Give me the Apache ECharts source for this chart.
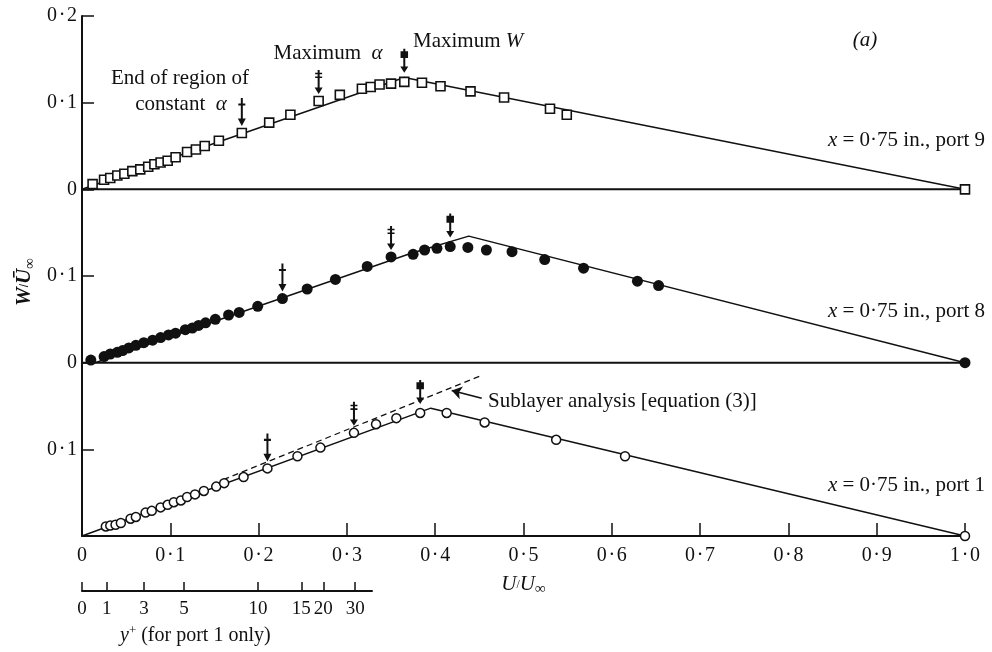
<!DOCTYPE html>
<html>
<head>
<meta charset="UTF-8">
<title>W/U against U/U</title>
<script src="https://cdn.jsdelivr.net/npm/echarts@6/dist/echarts.min.js"></script>
<style>
  html, body { margin: 0; padding: 0; background: #fff; }
  #main { width: 992px; height: 652px; }
</style>
</head>
<body>
<div id="main"></div>
<script>
// values: W/U∞ against U/U∞, x = 0.75 in.
// port 9 (open squares)
var port9U = [0.012,0.025,0.032,0.040,0.048,0.057,0.066,0.075,0.082,0.089,0.097,0.106,0.119,0.129,0.139,0.155,0.181,0.212,0.236,0.268,0.292,0.317,0.327,0.337,0.350,0.365,0.385,0.406,0.440,0.478,0.530,0.549,1.000];
var port9W = [0.006,0.011,0.013,0.016,0.018,0.021,0.023,0.026,0.029,0.031,0.033,0.037,0.043,0.046,0.050,0.056,0.065,0.077,0.086,0.102,0.109,0.116,0.118,0.121,0.122,0.124,0.123,0.119,0.113,0.106,0.093,0.086,0.000];
// port 8 (filled circles)
var port8U = [0.010,0.025,0.032,0.040,0.046,0.053,0.061,0.070,0.080,0.089,0.098,0.106,0.117,0.125,0.132,0.140,0.151,0.166,0.178,0.199,0.227,0.255,0.287,0.323,0.350,0.375,0.388,0.402,0.417,0.437,0.458,0.487,0.524,0.568,0.629,0.653,1.000];
var port8W = [0.003,0.007,0.010,0.012,0.014,0.017,0.020,0.023,0.026,0.029,0.032,0.034,0.038,0.040,0.043,0.046,0.050,0.055,0.058,0.065,0.074,0.085,0.096,0.111,0.122,0.125,0.130,0.132,0.134,0.133,0.130,0.128,0.119,0.109,0.094,0.089,0.000];
// port 1 (open circles)
var port1U = [0.027,0.032,0.038,0.044,0.055,0.061,0.072,0.079,0.089,0.097,0.104,0.112,0.119,0.128,0.138,0.152,0.161,0.183,0.210,0.244,0.270,0.308,0.333,0.356,0.383,0.413,0.456,0.537,0.615,1.000];
var port1W = [0.011,0.012,0.013,0.015,0.020,0.022,0.027,0.029,0.033,0.036,0.039,0.041,0.045,0.048,0.052,0.057,0.061,0.068,0.078,0.092,0.102,0.119,0.129,0.136,0.142,0.142,0.131,0.111,0.092,0.000];

// fitted lines
var fit9U = [0, 0.365, 1.0];
var fit9W = [0, 0.129, 0];
var fit8U = [0.015, 0.372, 0.438, 1.0];
var fit8W = [0, 0.126, 0.146, 0];
var fit1U = [0, 0.395, 1.0];
var fit1W = [0, 0.1475, 0];
// sublayer analysis [equation (3)], port 1
var subU = [0.16, 0.453];
var subW = [0.065, 0.1855];
// pointer from the label to the dashed line (tail, tip)
var pointerU = [0.4527, 0.4187];
var pointerW = [0.159, 0.168];

// points marked by arrows: end of constant alpha, max alpha, max W (indices)
var port9Marks = [16, 19, 25];
var port8Marks = [20, 24, 28];
var port1Marks = [18, 21, 24];

// each curve is shifted up by its panel offset
var offset9 = 0.4, offset8 = 0.2, offset1 = 0;

var xTickLabels = ['0', '0·1', '0·2', '0·3', '0·4', '0·5', '0·6', '0·7', '0·8', '0·9', '1·0'];
var yTickLabels = ['', '0·1', '0', '0·1', '0', '0·1', '0·2'];

// y+ scale for port 1 (position along U/U∞)
var yPlusLabels = ['0', '1', '3', '5', '10', '15', '20', '30'];
var yPlusU = [0, 0.028, 0.070, 0.1155, 0.199, 0.248, 0.273, 0.309];
var yPlusEnd = 0.328;

var FONT = 'Liberation Serif';
var INK = '#111';

function pts(us, ws, off) {
	return us.map(function (u, i) { return [u, ws[i] + off]; });
}
function marked(k) {
	return [
		[port9U[port9Marks[k]], port9W[port9Marks[k]] + offset9],
		[port8U[port8Marks[k]], port8W[port8Marks[k]] + offset8],
		[port1U[port1Marks[k]], port1W[port1Marks[k]] + offset1]
	];
}
function sp(s) { return s.replace('·', '\u200A·\u200A'); }

// arrow glyphs (shaft + head + cross bars)
var arrowSingle = 'path://M3.2 0H4.8V20H3.2Z M0.8 19H7.2L4 26Z M1.2 5H6.8V7H1.2Z';
var arrowDouble = 'path://M3.2 0H4.8V20H3.2Z M0.8 19H7.2L4 26Z M1.2 3H6.8V4.8H1.2Z M1.2 7H6.8V8.8H1.2Z';
var arrowBlob = 'path://M3.2 0H4.8V20H3.2Z M0.8 19H7.2L4 26Z M1 2.5H7V10H1Z';

var chart = echarts.init(document.getElementById('main'));

var lineBase = { type: 'line', symbol: 'none', silent: true, animation: false };

var pointer = pts(pointerU, pointerW, offset1);

var option = {
	backgroundColor: '#fff',
	animation: false,
	textStyle: { fontFamily: FONT, color: INK },
	grid: [
		{ left: 82, right: 27, top: 16, bottom: 116 },
		{ left: 82, width: 290, top: 580, bottom: 61 }
	],
	xAxis: [{
		type: 'value', min: 0, max: 1, interval: 0.1,
		axisLine: { lineStyle: { color: INK, width: 2 } },
		axisTick: { inside: true, length: 13, lineStyle: { color: INK, width: 1.5 } },
		axisLabel: {
			margin: 10, fontSize: 20, fontFamily: FONT, color: INK,
			formatter: function (v) { return sp(xTickLabels[Math.round(v * 10)]); }
		},
		splitLine: { show: false },
		name: '{i|U}/{i|U}{s|∞}', nameLocation: 'middle', nameGap: 36,
		nameTextStyle: {
			rich: {
				i: { fontFamily: FONT, fontStyle: 'italic', fontSize: 21, color: INK },
				s: { fontFamily: FONT, fontSize: 15, color: INK, padding: [10, 0, 0, 0] }
			}
		}
	}, {
		gridIndex: 1, type: 'value', min: 0, max: yPlusEnd,
		axisLine: { lineStyle: { color: INK, width: 2 } },
		axisTick: { inside: true, length: 9, customValues: yPlusU, lineStyle: { color: INK, width: 1.5 } },
		axisLabel: {
			customValues: yPlusU, margin: 9, fontSize: 19, fontFamily: FONT, color: INK,
			formatter: function (v) {
				for (var i = 0; i < yPlusU.length; i++) {
					if (Math.abs(yPlusU[i] - v) < 1e-6) return yPlusLabels[i];
				}
				return '';
			}
		},
		splitLine: { show: false }
	}],
	yAxis: [{
		type: 'value', min: 0, max: 0.6, interval: 0.1,
		axisLine: { show: true, lineStyle: { color: INK, width: 2 } },
		axisTick: { show: true, inside: true, length: 12, lineStyle: { color: INK, width: 1.5 } },
		axisLabel: {
			margin: 5, fontSize: 20, fontFamily: FONT, color: INK,
			formatter: function (v) { return sp(yTickLabels[Math.round(v * 10)]); }
		},
		splitLine: { show: false }
	}, {
		gridIndex: 1, type: 'value', min: 0, max: 1, show: false
	}],
	graphic: [
		{ type: 'text', x: 25, y: 282, rotation: Math.PI / 2,
			style: { text: '{i|W}/{i|Ū}{s|∞}', align: 'center', verticalAlign: 'middle',
				rich: {
					i: { fontFamily: FONT, fontStyle: 'italic', fontWeight: 'bold', fontSize: 21, fill: INK },
					s: { fontFamily: FONT, fontSize: 15, fill: INK, padding: [10, 0, 0, 0] }
				} } },
		{ type: 'text', x: 180, y: 78,
			style: { text: 'End of region of', fontFamily: FONT, fontSize: 21, fill: INK, align: 'center', verticalAlign: 'middle' } },
		{ type: 'text', x: 181, y: 104,
			style: { text: 'constant  {a|α}', fontFamily: FONT, fontSize: 21, fill: INK, align: 'center', verticalAlign: 'middle',
				rich: { a: { fontFamily: FONT, fontStyle: 'italic', fontSize: 21, fill: INK } } } },
		{ type: 'text', x: 328, y: 53,
			style: { text: 'Maximum  {a|α}', fontFamily: FONT, fontSize: 21, fill: INK, align: 'center', verticalAlign: 'middle',
				rich: { a: { fontFamily: FONT, fontStyle: 'italic', fontSize: 21, fill: INK } } } },
		{ type: 'text', x: 413, y: 41,
			style: { text: 'Maximum {a|W}', fontFamily: FONT, fontSize: 21, fill: INK, align: 'left', verticalAlign: 'middle',
				rich: { a: { fontFamily: FONT, fontStyle: 'italic', fontSize: 21, fill: INK } } } },
		{ type: 'text', x: 865, y: 40,
			style: { text: '(a)', fontFamily: FONT, fontStyle: 'italic', fontSize: 21, fill: INK, align: 'center', verticalAlign: 'middle' } },
		{ type: 'text', x: 985, y: 140,
			style: { text: '{a|x} = 0·75 in., port 9', fontFamily: FONT, fontSize: 21, fill: INK, align: 'right', verticalAlign: 'middle',
				rich: { a: { fontFamily: FONT, fontStyle: 'italic', fontSize: 21, fill: INK } } } },
		{ type: 'text', x: 985, y: 311,
			style: { text: '{a|x} = 0·75 in., port 8', fontFamily: FONT, fontSize: 21, fill: INK, align: 'right', verticalAlign: 'middle',
				rich: { a: { fontFamily: FONT, fontStyle: 'italic', fontSize: 21, fill: INK } } } },
		{ type: 'text', x: 985, y: 485,
			style: { text: '{a|x} = 0·75 in., port 1', fontFamily: FONT, fontSize: 21, fill: INK, align: 'right', verticalAlign: 'middle',
				rich: { a: { fontFamily: FONT, fontStyle: 'italic', fontSize: 21, fill: INK } } } },
		{ type: 'text', x: 488, y: 401,
			style: { text: 'Sublayer analysis [equation (3)]', fontFamily: FONT, fontSize: 21, fill: INK, align: 'left', verticalAlign: 'middle' } },
		{ type: 'text', x: 120, y: 636,
			style: { text: '{i|y}{p|+} (for port 1 only)', fontFamily: FONT, fontSize: 20, fill: INK, align: 'left', verticalAlign: 'middle',
				rich: {
					i: { fontFamily: FONT, fontStyle: 'italic', fontSize: 20, fill: INK },
					p: { fontFamily: FONT, fontSize: 13, fill: INK, padding: [0, 0, 10, 0] }
				} } }
	],
	series: [
		// zero lines of the upper two curves
		Object.assign({}, lineBase, { data: [[0, offset9], [1, offset9]], lineStyle: { color: INK, width: 2 } }),
		Object.assign({}, lineBase, { data: [[0, offset8], [1, offset8]], lineStyle: { color: INK, width: 2 } }),
		// fitted lines
		Object.assign({}, lineBase, { data: pts(fit9U, fit9W, offset9), lineStyle: { color: INK, width: 1.5 } }),
		Object.assign({}, lineBase, { data: pts(fit8U, fit8W, offset8), lineStyle: { color: INK, width: 1.5 } }),
		Object.assign({}, lineBase, { data: pts(fit1U, fit1W, offset1), lineStyle: { color: INK, width: 1.5 } }),
		// sublayer analysis
		Object.assign({}, lineBase, {
			data: pts(subU, subW, offset1),
			lineStyle: { color: INK, width: 1.3, type: [6, 4] }
		}),
		// pointer to the dashed line
		{
			type: 'lines', coordinateSystem: 'cartesian2d', silent: true, animation: false, z: 4,
			symbol: ['none', 'arrow'], symbolSize: 10,
			lineStyle: { color: INK, width: 1.6, opacity: 1 },
			data: [{ coords: pointer }]
		},
		// data points
		{ type: 'scatter', data: pts(port9U, port9W, offset9), symbol: 'rect', symbolSize: 9,
			itemStyle: { color: '#fff', borderColor: INK, borderWidth: 1.6, opacity: 1 }, z: 5 },
		{ type: 'scatter', data: pts(port8U, port8W, offset8), symbol: 'circle', symbolSize: 11,
			itemStyle: { color: INK, opacity: 1 }, z: 5 },
		{ type: 'scatter', data: pts(port1U, port1W, offset1), symbol: 'circle', symbolSize: 9,
			itemStyle: { color: '#fff', borderColor: INK, borderWidth: 1.5, opacity: 1 }, z: 5 },
		// arrows
		{ type: 'scatter', data: marked(0), symbol: arrowSingle, symbolSize: [8, 28], symbolOffset: [0, -21],
			itemStyle: { color: INK, opacity: 1 }, z: 6 },
		{ type: 'scatter', data: marked(1), symbol: arrowDouble, symbolSize: [8, 24], symbolOffset: [0, -19],
			itemStyle: { color: INK, opacity: 1 }, z: 6 },
		{ type: 'scatter', data: marked(2), symbol: arrowBlob, symbolSize: [8, 24], symbolOffset: [0, -21],
			itemStyle: { color: INK, opacity: 1 }, z: 6 }
	]
};

chart.setOption(option);
</script>
</body>
</html>
